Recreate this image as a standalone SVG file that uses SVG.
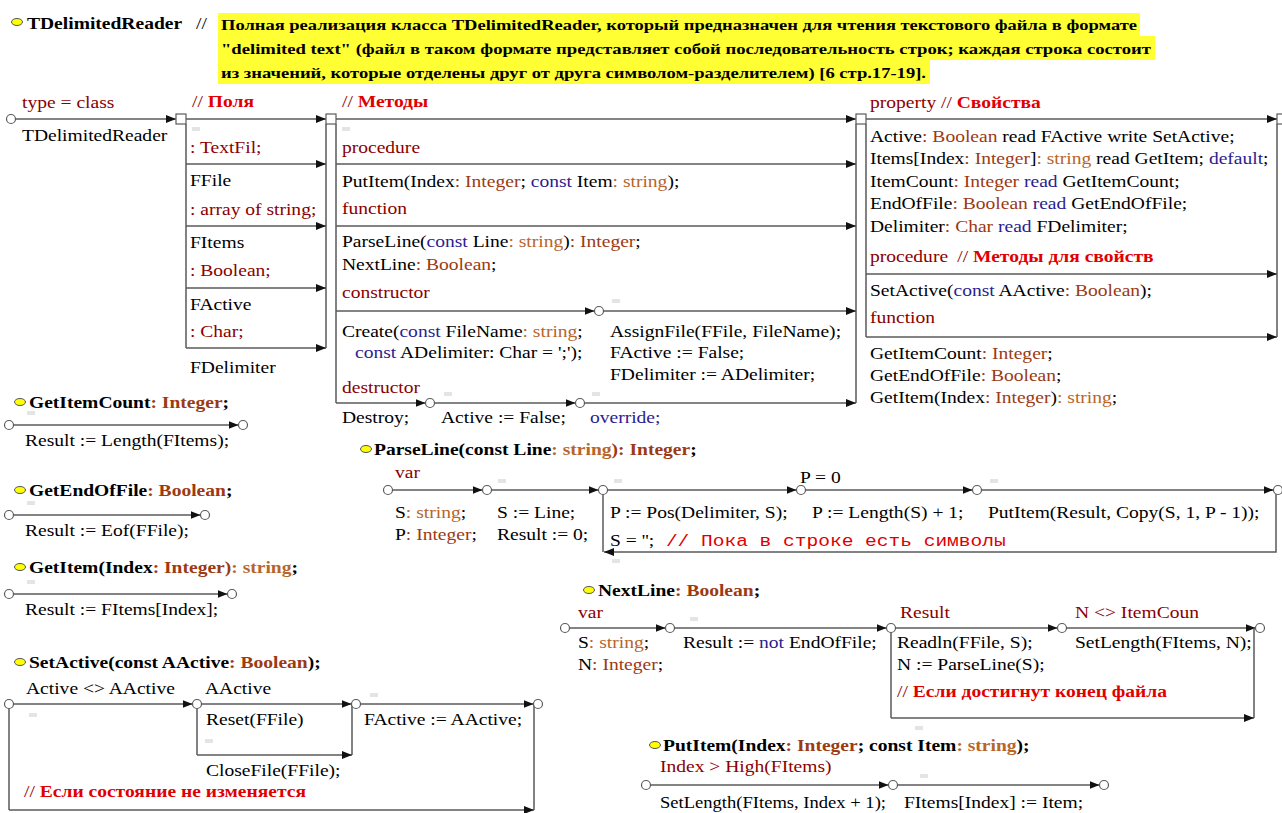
<svg xmlns="http://www.w3.org/2000/svg" width="1282" height="813" viewBox="0 0 1282 813">
<defs>
<style>
text{font-size:17px;fill:#000}
.ti{font-size:15px;font-weight:bold}
.b{font-weight:bold}
.kw{fill:#8b0000}
.ty{fill:#9c3a12}
.st{fill:#b8652a}
.nv{fill:#2b1d8f}
.cm{fill:#e00000;font-weight:bold}
.mono{fill:#e00000}
.ln{stroke:#5a5a5a;stroke-width:1.5;fill:none}
.ar{marker-end:url(#ah)}
.c{fill:#fff;stroke:#5a5a5a;stroke-width:1.2}
.sq{fill:#fff;stroke:#5a5a5a;stroke-width:1.2}
.tag{fill:#e4e4e4}
.hl{fill:#ffff33}
.y{fill:#ffff00;stroke:#555;stroke-width:1}
</style>
<marker id="ah" viewBox="0 0 10 8" refX="10" refY="4" markerWidth="10" markerHeight="8" markerUnits="userSpaceOnUse" orient="auto"><path d="M0,0L10,4L0,8z" fill="#111"/></marker>
</defs>
<rect width="1282" height="813" fill="#fff"/>

<g font-family="Liberation Serif, Times New Roman, Tinos, DejaVu Serif, serif">
<g id="title">
<rect class="hl" x="218" y="13" width="922" height="23"/>
<rect class="hl" x="218" y="36" width="937" height="24"/>
<rect class="hl" x="218" y="60" width="712" height="24"/>
<ellipse class="y" cx="17" cy="22" rx="5.5" ry="3.5"/>
<text class="b" x="27" y="29" transform="matrix(1.15 0 0 1 -4.05 0)">TDelimitedReader</text>
<text x="196" y="29" transform="matrix(1.15 0 0 1 -29.4 0)">//</text>
<text class="ti" x="221" y="30" textLength="916" lengthAdjust="spacingAndGlyphs">Полная реализация класса TDelimitedReader, который предназначен для чтения текстового файла в формате</text>
<text class="ti" x="221" y="54" textLength="930" lengthAdjust="spacingAndGlyphs">"delimited text" (файл в таком формате представляет собой последовательность строк; каждая строка состоит</text>
<text class="ti" x="221" y="78" textLength="705" lengthAdjust="spacingAndGlyphs">из значений, которые отделены друг от друга символом-разделителем) [6 стр.17-19].</text>
</g>

<g id="connectors">
<path class="ln ar" d="M15.5,119H176"/>
<path class="ln ar" d="M186,119H326"/>
<path class="ln" d="M186,124V348M326,124V348"/>
<path class="ln ar" d="M186,164H326"/>
<path class="ln ar" d="M186,226H326"/>
<path class="ln ar" d="M186,288H326"/>
<path class="ln ar" d="M186,348H326"/>
<path class="ln ar" d="M336,119H856"/>
<path class="ln" d="M336,124V403M856,124V403"/>
<path class="ln ar" d="M336,164H856"/>
<path class="ln ar" d="M336,226H856"/>
<path class="ln ar" d="M336,311H594.5"/>
<path class="ln ar" d="M603.5,311H856"/>
<path class="ln ar" d="M336,403H425.5"/>
<path class="ln ar" d="M434.5,403H575.5"/>
<path class="ln ar" d="M584.5,403H856"/>
<path class="ln ar" d="M866,119H1277"/>
<path class="ln" d="M866,124V337M1277,124V337"/>
<path class="ln ar" d="M866,274H1277"/>
<path class="ln ar" d="M866,337H1277"/>
<path class="ln ar" d="M13.5,425H238.5"/>
<path class="ln ar" d="M13.5,515H200.5"/>
<path class="ln ar" d="M13.5,594H227.5"/>
<path class="ln ar" d="M392.5,490H482.5"/>
<path class="ln ar" d="M491.5,490H598.5"/>
<path class="ln ar" d="M607.5,490H796.5"/>
<path class="ln ar" d="M805.5,490H972.5"/>
<path class="ln ar" d="M981.5,490H1273.5"/>
<path class="ln" d="M603,494.5V552"/>
<path class="ln ar" d="M1276,494V552H604"/>
<path class="ln ar" d="M569.5,628H665.5"/>
<path class="ln ar" d="M674.5,628H886.5"/>
<path class="ln ar" d="M895.5,628H1057.5"/>
<path class="ln ar" d="M1066.5,628H1255.5"/>
<path class="ln" d="M891,632.5V718M1254,628V718"/>
<path class="ln ar" d="M891,718H1254"/>
<path class="ln ar" d="M650.5,785H888.5"/>
<path class="ln ar" d="M897.5,785H1099.5"/>
<path class="ln ar" d="M13.5,704H192.5"/>
<path class="ln ar" d="M201.5,704H351.5"/>
<path class="ln" d="M197,708.5V755M352,704V755"/>
<path class="ln ar" d="M197,755H352"/>
<path class="ln ar" d="M360.5,704H533.5"/>
<path class="ln" d="M9,708.5V810M534,704V810"/>
<path class="ln ar" d="M9,810H534"/>
</g>

<g id="junctions">
<circle class="c" cx="11" cy="119" r="4.5"/>
<rect class="sq" x="176" y="114" width="10" height="10"/>
<rect class="sq" x="326" y="114" width="10" height="10"/>
<rect class="sq" x="856" y="114" width="10" height="10"/>
<rect class="sq" x="1277" y="114" width="10" height="10"/>
<circle class="c" cx="599" cy="311" r="4.5"/>
<circle class="c" cx="430" cy="403" r="4.5"/>
<circle class="c" cx="580" cy="403" r="4.5"/>
<circle class="c" cx="9" cy="425" r="4.5"/>
<circle class="c" cx="243" cy="425" r="4.5"/>
<circle class="c" cx="9" cy="515" r="4.5"/>
<circle class="c" cx="205" cy="515" r="4.5"/>
<circle class="c" cx="9" cy="594" r="4.5"/>
<circle class="c" cx="232" cy="594" r="4.5"/>
<circle class="c" cx="388" cy="490" r="4.5"/>
<circle class="c" cx="487" cy="490" r="4.5"/>
<circle class="c" cx="603" cy="490" r="4.5"/>
<circle class="c" cx="801" cy="490" r="4.5"/>
<circle class="c" cx="977" cy="490" r="4.5"/>
<circle class="c" cx="1278" cy="490" r="4.5"/>
<circle class="c" cx="565" cy="628" r="4.5"/>
<circle class="c" cx="670" cy="628" r="4.5"/>
<circle class="c" cx="891" cy="628" r="4.5"/>
<circle class="c" cx="1062" cy="628" r="4.5"/>
<circle class="c" cx="1260" cy="628" r="4.5"/>
<circle class="c" cx="646" cy="785" r="4.5"/>
<circle class="c" cx="893" cy="785" r="4.5"/>
<circle class="c" cx="1104" cy="785" r="4.5"/>
<circle class="c" cx="9" cy="704" r="4.5"/>
<circle class="c" cx="197" cy="704" r="4.5"/>
<circle class="c" cx="356" cy="704" r="4.5"/>
<circle class="c" cx="538" cy="704" r="4.5"/>
<rect class="tag" x="192" y="127" width="8" height="4"/>
<rect class="tag" x="342" y="127" width="8" height="4"/>
<rect class="tag" x="612" y="299" width="8" height="4"/>
<rect class="tag" x="444" y="392" width="8" height="4"/>
<rect class="tag" x="592" y="392" width="8" height="4"/>
<rect class="tag" x="27" y="411" width="8" height="4"/>
<rect class="tag" x="27" y="501" width="8" height="4"/>
<rect class="tag" x="27" y="580" width="8" height="4"/>
<rect class="tag" x="498" y="479" width="8" height="4"/>
<rect class="tag" x="614" y="479" width="8" height="4"/>
<rect class="tag" x="990" y="479" width="8" height="4"/>
<rect class="tag" x="612" y="559" width="8" height="4"/>
<rect class="tag" x="690" y="617" width="8" height="4"/>
<rect class="tag" x="915" y="726" width="8" height="4"/>
<rect class="tag" x="920" y="774" width="8" height="4"/>
<rect class="tag" x="29" y="713" width="8" height="4"/>
<rect class="tag" x="205" y="739" width="8" height="4"/>
<rect class="tag" x="370" y="693" width="8" height="4"/>
</g>

<g id="class-head">
<text class="kw" x="22" y="108" transform="matrix(1.15 0 0 1 -3.3 0)">type = class</text>
<text x="22" y="141" transform="matrix(1.15 0 0 1 -3.3 0)">TDelimitedReader</text>
</g>

<g id="fields">
<text x="192" y="107" transform="matrix(1.15 0 0 1 -28.8 0)"><tspan class="kw">// </tspan><tspan class="cm">Поля</tspan></text>
<text class="kw" x="190" y="153" transform="matrix(1.15 0 0 1 -28.5 0)">: TextFil;</text>
<text x="190" y="186" transform="matrix(1.15 0 0 1 -28.5 0)">FFile</text>
<text class="kw" x="190" y="215" transform="matrix(1.15 0 0 1 -28.5 0)">: array of string;</text>
<text x="190" y="248" transform="matrix(1.15 0 0 1 -28.5 0)">FItems</text>
<text class="kw" x="190" y="276" transform="matrix(1.15 0 0 1 -28.5 0)">: Boolean;</text>
<text x="190" y="310" transform="matrix(1.15 0 0 1 -28.5 0)">FActive</text>
<text class="kw" x="190" y="337" transform="matrix(1.15 0 0 1 -28.5 0)">: Char;</text>
<text x="190" y="373" transform="matrix(1.15 0 0 1 -28.5 0)">FDelimiter</text>
</g>

<g id="methods">
<text x="342" y="107" transform="matrix(1.15 0 0 1 -51.3 0)"><tspan class="kw">// </tspan><tspan class="cm">Методы</tspan></text>
<text class="kw" x="342" y="153" transform="matrix(1.15 0 0 1 -51.3 0)">procedure</text>
<text x="342" y="187" transform="matrix(1.15 0 0 1 -51.3 0)">PutItem(Index<tspan class="ty">: Integer</tspan>; <tspan class="nv">const</tspan> Item<tspan class="st">: string</tspan>);</text>
<text class="kw" x="342" y="214" transform="matrix(1.15 0 0 1 -51.3 0)">function</text>
<text x="342" y="247" transform="matrix(1.15 0 0 1 -51.3 0)">ParseLine(<tspan class="nv">const</tspan> Line<tspan class="st">: string</tspan>)<tspan class="ty">: Integer</tspan>;</text>
<text x="342" y="270" transform="matrix(1.15 0 0 1 -51.3 0)">NextLine<tspan class="ty">: Boolean</tspan>;</text>
<text class="kw" x="342" y="298" transform="matrix(1.15 0 0 1 -51.3 0)">constructor</text>
<text x="342" y="337" transform="matrix(1.15 0 0 1 -51.3 0)">Create(<tspan class="nv">const</tspan> FileName<tspan class="st">: string</tspan>;</text>
<text x="355" y="358" transform="matrix(1.15 0 0 1 -53.25 0)"><tspan class="nv">const</tspan> ADelimiter: Char = ';');</text>
<text x="610" y="337" transform="matrix(1.15 0 0 1 -91.5 0)">AssignFile(FFile, FileName);</text>
<text x="610" y="358" transform="matrix(1.15 0 0 1 -91.5 0)">FActive := False;</text>
<text x="610" y="380" transform="matrix(1.15 0 0 1 -91.5 0)">FDelimiter := ADelimiter;</text>
<text class="kw" x="342" y="393" transform="matrix(1.15 0 0 1 -51.3 0)">destructor</text>
<text x="342" y="423" transform="matrix(1.15 0 0 1 -51.3 0)">Destroy;</text>
<text x="441" y="423" transform="matrix(1.15 0 0 1 -66.15 0)">Active := False;</text>
<text class="nv" x="590" y="423" transform="matrix(1.15 0 0 1 -88.5 0)">override;</text>
</g>

<g id="properties">
<text x="870" y="108" transform="matrix(1.15 0 0 1 -130.5 0)"><tspan class="kw">property // </tspan><tspan class="cm">Свойства</tspan></text>
<text x="870" y="142" transform="matrix(1.15 0 0 1 -130.5 0)">Active<tspan class="ty">: Boolean</tspan> read FActive write SetActive;</text>
<text x="870" y="164" transform="matrix(1.15 0 0 1 -130.5 0)">Items[Index<tspan class="ty">: Integer</tspan>]<tspan class="st">: string</tspan> read GetItem; <tspan class="nv">default</tspan>;</text>
<text x="870" y="187" transform="matrix(1.15 0 0 1 -130.5 0)">ItemCount<tspan class="ty">: Integer</tspan> <tspan class="nv">read</tspan> GetItemCount;</text>
<text x="870" y="209" transform="matrix(1.15 0 0 1 -130.5 0)">EndOfFile<tspan class="ty">: Boolean</tspan> <tspan class="nv">read</tspan> GetEndOfFile;</text>
<text x="870" y="232" transform="matrix(1.15 0 0 1 -130.5 0)">Delimiter<tspan class="ty">: Char</tspan> <tspan class="nv">read</tspan> FDelimiter;</text>
<text x="870" y="262" transform="matrix(1.15 0 0 1 -130.5 0)"><tspan class="kw">procedure</tspan><tspan class="kw" dx="8">// </tspan><tspan class="cm">Методы для свойств</tspan></text>
<text x="870" y="296" transform="matrix(1.15 0 0 1 -130.5 0)">SetActive(<tspan class="nv">const</tspan> AActive<tspan class="ty">: Boolean</tspan>);</text>
<text class="kw" x="870" y="323" transform="matrix(1.15 0 0 1 -130.5 0)">function</text>
<text x="870" y="359" transform="matrix(1.15 0 0 1 -130.5 0)">GetItemCount<tspan class="ty">: Integer</tspan>;</text>
<text x="870" y="381" transform="matrix(1.15 0 0 1 -130.5 0)">GetEndOfFile<tspan class="ty">: Boolean</tspan>;</text>
<text x="870" y="403" transform="matrix(1.15 0 0 1 -130.5 0)">GetItem(Index<tspan class="ty">: Integer</tspan>)<tspan class="st">: string</tspan>;</text>
</g>

<g id="fn-getitemcount">
<ellipse class="y" cx="20" cy="402" rx="5.5" ry="3.5"/>
<text class="b" x="29" y="408" transform="matrix(1.15 0 0 1 -4.35 0)">GetItemCount<tspan class="ty">: Integer</tspan>;</text>
<text x="25" y="446" transform="matrix(1.15 0 0 1 -3.75 0)">Result := Length(FItems);</text>
</g>

<g id="fn-getendoffile">
<ellipse class="y" cx="20" cy="490" rx="5.5" ry="3.5"/>
<text class="b" x="29" y="496" transform="matrix(1.15 0 0 1 -4.35 0)">GetEndOfFile<tspan class="ty">: Boolean</tspan>;</text>
<text x="25" y="536" transform="matrix(1.15 0 0 1 -3.75 0)">Result := Eof(FFile);</text>
</g>

<g id="fn-getitem">
<ellipse class="y" cx="20" cy="567" rx="5.5" ry="3.5"/>
<text class="b" x="29" y="573" transform="matrix(1.15 0 0 1 -4.35 0)">GetItem(Index<tspan class="ty">: Integer)</tspan><tspan class="st">: string</tspan>;</text>
<text x="25" y="615" transform="matrix(1.15 0 0 1 -3.75 0)">Result := FItems[Index];</text>
</g>

<g id="fn-setactive">
<ellipse class="y" cx="20" cy="662" rx="5.5" ry="3.5"/>
<text class="b" x="29" y="668" transform="matrix(1.15 0 0 1 -4.35 0)">SetActive(const AActive<tspan class="ty">: Boolean</tspan>);</text>
<text x="26" y="694" transform="matrix(1.15 0 0 1 -3.9 0)">Active &lt;&gt; AActive</text>
<text x="205" y="694" transform="matrix(1.15 0 0 1 -30.75 0)">AActive</text>
<text x="206" y="725" transform="matrix(1.15 0 0 1 -30.9 0)">Reset(FFile)</text>
<text x="206" y="776" transform="matrix(1.15 0 0 1 -30.9 0)">CloseFile(FFile);</text>
<text x="364" y="725" transform="matrix(1.15 0 0 1 -54.6 0)">FActive := AActive;</text>
<text x="24" y="797" transform="matrix(1.15 0 0 1 -3.6 0)"><tspan class="kw">// </tspan><tspan class="cm">Если состояние не изменяется</tspan></text>
</g>

<g id="fn-parseline">
<ellipse class="y" cx="366" cy="449" rx="5.5" ry="3.5"/>
<text class="b" x="374" y="455" transform="matrix(1.15 0 0 1 -56.1 0)">ParseLine(const Line<tspan class="st">: string</tspan><tspan class="ty">): Integer</tspan>;</text>
<text class="kw" x="395" y="478" transform="matrix(1.15 0 0 1 -59.25 0)">var</text>
<text x="395" y="518" transform="matrix(1.15 0 0 1 -59.25 0)">S<tspan class="st">: string</tspan>;</text>
<text x="395" y="540" transform="matrix(1.15 0 0 1 -59.25 0)">P<tspan class="ty">: Integer</tspan>;</text>
<text x="497" y="518" transform="matrix(1.15 0 0 1 -74.55 0)">S := Line;</text>
<text x="497" y="540" transform="matrix(1.15 0 0 1 -74.55 0)">Result := 0;</text>
<text x="610" y="518" transform="matrix(1.15 0 0 1 -91.5 0)">P := Pos(Delimiter, S);</text>
<text x="800" y="483" transform="matrix(1.15 0 0 1 -120 0)">P = 0</text>
<text x="812" y="518" transform="matrix(1.15 0 0 1 -121.8 0)">P := Length(S) + 1;</text>
<text x="988" y="518" transform="matrix(1.15 0 0 1 -148.2 0)">PutItem(Result, Copy(S, 1, P - 1));</text>
<text x="610" y="546" transform="matrix(1.15 0 0 1 -91.5 0)">S = ''; <tspan class="mono" font-family="Liberation Mono, Courier New, monospace" dx="6">// Пока в строке есть символы</tspan></text>
</g>

<g id="fn-nextline">
<ellipse class="y" cx="589" cy="590" rx="5.5" ry="3.5"/>
<text class="b" x="598" y="596" transform="matrix(1.15 0 0 1 -89.7 0)">NextLine<tspan class="ty">: Boolean</tspan>;</text>
<text class="kw" x="578" y="618" transform="matrix(1.15 0 0 1 -86.7 0)">var</text>
<text x="578" y="648" transform="matrix(1.15 0 0 1 -86.7 0)">S<tspan class="st">: string</tspan>;</text>
<text x="578" y="670" transform="matrix(1.15 0 0 1 -86.7 0)">N<tspan class="ty">: Integer</tspan>;</text>
<text x="683" y="648" transform="matrix(1.15 0 0 1 -102.45 0)">Result := <tspan class="nv">not</tspan> EndOfFile;</text>
<text class="kw" x="900" y="618" transform="matrix(1.15 0 0 1 -135 0)">Result</text>
<text class="kw" x="1075" y="618" transform="matrix(1.15 0 0 1 -161.25 0)">N &lt;&gt; ItemCoun</text>
<text x="897" y="648" transform="matrix(1.15 0 0 1 -134.55 0)">Readln(FFile, S);</text>
<text x="897" y="670" transform="matrix(1.15 0 0 1 -134.55 0)">N := ParseLine(S);</text>
<text x="897" y="697" transform="matrix(1.15 0 0 1 -134.55 0)"><tspan class="kw">// </tspan><tspan class="cm">Если достигнут конец файла</tspan></text>
<text x="1075" y="648" transform="matrix(1.15 0 0 1 -161.25 0)">SetLength(FItems, N);</text>
</g>

<g id="fn-putitem">
<ellipse class="y" cx="655" cy="745" rx="5.5" ry="3.5"/>
<text class="b" x="663" y="751" transform="matrix(1.15 0 0 1 -99.45 0)">PutItem(Index<tspan class="ty">: Integer</tspan>; const Item<tspan class="st">: string</tspan>);</text>
<text class="kw" x="660" y="772" transform="matrix(1.15 0 0 1 -99 0)">Index &gt; High(FItems)</text>
<text x="660" y="808" textLength="226" lengthAdjust="spacingAndGlyphs">SetLength(FItems, Index + 1);</text>
<text x="904" y="808" transform="matrix(1.15 0 0 1 -135.6 0)">FItems[Index] := Item;</text>
</g>
</g>
</svg>
